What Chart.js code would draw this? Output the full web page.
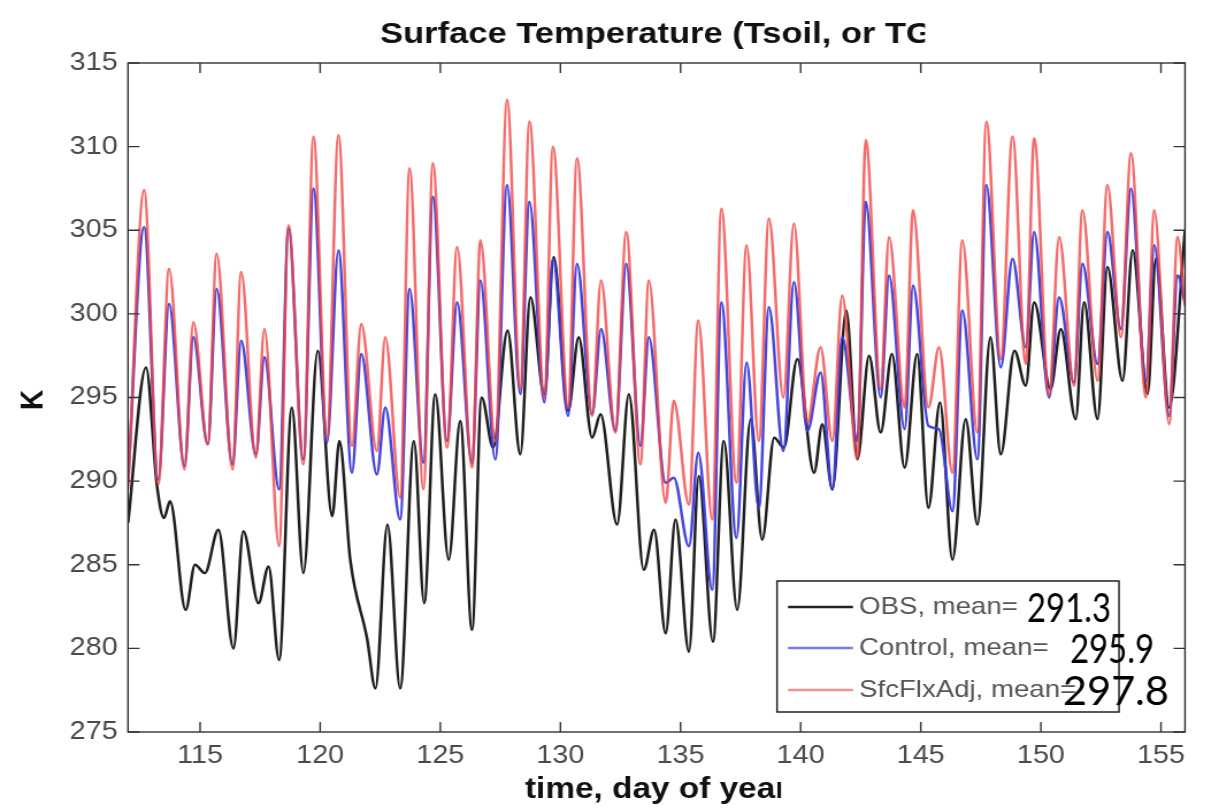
<!DOCTYPE html>
<html>
<head>
<meta charset="utf-8">
<title>Surface Temperature</title>
<script src="https://cdn.jsdelivr.net/npm/chart.js@4.4.0/dist/chart.umd.min.js"></script>
<style>
  html, body { margin: 0; padding: 0; background: #fff; overflow: hidden; }
  /* the source figure is stretched sideways, so the whole canvas is too */
  #wrap { width: 1055px; height: 812px; transform: scaleX(1.15); transform-origin: 0 0; }
</style>
</head>
<body>
<div id="wrap"><canvas id="tempChart" width="1055" height="812"></canvas></div>
<script>
// day of year of each daily max / min
const modelDays = [112.0, 112.67, 113.26, 113.71, 114.35, 114.72, 115.32, 115.69, 116.35, 116.71,
  117.32, 117.68, 118.29, 118.68, 119.3, 119.72, 120.28, 120.76, 121.32, 121.71,
  122.36, 122.71, 123.33, 123.72, 124.3, 124.69, 125.28, 125.7, 126.32, 126.67,
  127.29, 127.78, 128.33, 128.71, 129.33, 129.69, 130.32, 130.69, 131.32, 131.69,
  132.29, 132.74, 133.33, 133.68, 134.38, 134.72, 135.35, 135.74, 136.32, 136.7,
  137.33, 137.75, 138.26, 138.68, 139.28, 139.72, 140.28, 140.83, 141.32, 141.73,
  142.36, 142.71, 143.33, 143.68, 144.33, 144.68, 145.32, 145.76, 146.32, 146.73,
  147.36, 147.73, 148.33, 148.82, 149.37, 149.72, 150.34, 150.76, 151.38, 151.73,
  152.36, 152.77, 153.33, 153.75, 154.37, 154.72, 155.34, 155.69, 156.0];

// SfcFlxAdj run (red)
const sfcTemps = [289.5, 307.4, 289.8, 302.7, 290.7, 299.5, 292.2, 303.6, 290.7, 302.5,
  291.4, 299.1, 286.1, 305.3, 291.0, 310.6, 292.6, 310.7, 292.1, 299.4,
  291.8, 298.6, 289.0, 308.7, 289.5, 309.0, 292.0, 304.0, 290.8, 304.4,
  292.4, 312.8, 295.5, 311.5, 295.0, 310.0, 294.4, 309.3, 293.9, 302.0,
  292.9, 304.9, 291.0, 302.0, 288.7, 294.8, 288.6, 299.6, 287.7, 306.3,
  289.9, 304.1, 292.4, 305.7, 295.0, 305.4, 293.5, 298.0, 292.4, 301.1,
  291.3, 310.4, 295.5, 304.6, 294.4, 306.2, 294.4, 298.0, 290.5, 304.4,
  292.9, 311.5, 297.3, 310.6, 297.0, 310.5, 295.1, 304.6, 295.7, 306.2,
  296.0, 307.7, 298.6, 309.6, 295.0, 306.2, 293.4, 304.6, 300.5];

// Control run (blue)
const controlTemps = [290.0, 305.2, 290.1, 300.6, 290.9, 298.6, 292.2, 301.5, 291.0, 298.4,
  291.6, 297.4, 289.5, 305.1, 291.3, 307.5, 292.3, 303.8, 290.5, 297.6,
  290.4, 294.4, 287.7, 301.5, 291.1, 307.0, 292.4, 300.7, 291.1, 302.0,
  291.3, 307.7, 295.2, 306.7, 294.7, 303.3, 293.9, 303.0, 294.0, 299.1,
  293.0, 303.0, 292.1, 298.6, 289.9, 290.2, 286.1, 291.7, 283.5, 300.7,
  286.6, 297.1, 288.4, 300.4, 291.8, 301.9, 293.0, 296.5, 289.5, 298.6,
  292.4, 306.7, 295.0, 302.3, 293.1, 301.7, 293.3, 293.1, 288.2, 300.2,
  291.3, 307.7, 296.8, 303.3, 298.0, 304.9, 295.0, 301.0, 295.9, 303.0,
  297.0, 304.9, 299.1, 307.5, 296.0, 304.1, 293.9, 302.3, 300.7];

// observations (black)
const obsDays = [112.0, 112.75, 113.2, 113.5, 113.75, 114.4, 114.79, 115.2, 115.76, 116.39,
  116.8, 117.43, 117.85, 118.29, 118.82, 119.3, 119.9, 120.5, 120.8, 121.25,
  121.95, 122.3, 122.8, 123.33, 123.9, 124.33, 124.79, 125.35, 125.83, 126.32,
  126.72, 127.2, 127.8, 128.33, 128.75, 129.33, 129.72, 130.32, 130.76, 131.32,
  131.67, 132.36, 132.85, 133.47, 133.9, 134.38, 134.79, 135.35, 135.76, 136.35,
  136.8, 137.36, 137.92, 138.4, 138.9, 139.3, 139.86, 140.56, 140.9, 141.32,
  141.9, 142.36, 142.85, 143.33, 143.8, 144.33, 144.85, 145.32, 145.8, 146.32,
  146.87, 147.36, 147.9, 148.33, 148.9, 149.37, 149.72, 150.4, 150.83, 151.45,
  151.8, 152.36, 152.77, 153.4, 153.82, 154.44, 154.79, 155.34, 156.0];
const obsTemps = [287.5, 296.8, 289.8, 287.8, 288.8, 282.3, 285.0, 284.5, 287.1, 280.0,
  287.0, 282.7, 284.9, 279.3, 294.4, 284.5, 297.8, 287.9, 292.4, 285.3,
  280.6, 277.6, 287.4, 277.6, 292.4, 282.7, 295.2, 285.3, 293.6, 281.1,
  295.0, 292.0, 299.0, 291.6, 301.0, 295.2, 303.4, 294.2, 298.6, 292.6,
  294.0, 287.4, 295.2, 284.7, 287.1, 280.9, 287.7, 279.8, 290.3, 280.4,
  292.4, 282.3, 293.7, 286.5, 292.6, 292.0, 297.3, 290.5, 293.4, 289.5,
  300.2, 291.3, 297.5, 292.9, 297.6, 290.8, 297.6, 288.4, 294.7, 285.3,
  293.7, 287.4, 298.6, 291.6, 297.8, 295.7, 300.7, 295.5, 299.1, 293.7,
  300.7, 293.7, 302.8, 296.0, 303.8, 295.2, 303.3, 294.4, 305.0];

const xTickValues = [115, 120, 125, 130, 135, 140, 145, 150, 155];
const yTickValues = [275, 280, 285, 290, 295, 300, 305, 310, 315];

const seriesNames = ["OBS", "Control", "SfcFlxAdj"];
const seriesMeans = [291.3, 295.9, 297.8];
const seriesColors = ["#1e1e1e", "rgba(60, 60, 220, 0.95)", "rgba(240, 70, 70, 0.8)"];

const S = 1.15;  // horizontal stretch of the wrapper
const FONT = "'Liberation Sans', Arial, Helvetica, sans-serif";

function toPoints(days, temps) {
  return days.map((d, i) => ({ x: d, y: temps[i] }));
}

// title, axis labels, inward ticks, box and legend, MATLAB style
const figureDecor = {
  id: "figureDecor",
  afterDatasetsDraw(chart) {
    const ctx = chart.ctx;
    const area = chart.chartArea;
    const xs = chart.scales.x;
    const ys = chart.scales.y;

    ctx.save();
    ctx.strokeStyle = "#333";
    ctx.lineWidth = 1.4;
    ctx.beginPath();
    xTickValues.forEach((v) => {
      const px = xs.getPixelForValue(v);
      ctx.moveTo(px, area.bottom);
      ctx.lineTo(px, area.bottom - 10);
      ctx.moveTo(px, area.top);
      ctx.lineTo(px, area.top + 10);
    });
    yTickValues.forEach((v) => {
      const py = ys.getPixelForValue(v);
      ctx.moveTo(area.left, py);
      ctx.lineTo(area.left + 10, py);
      ctx.moveTo(area.right, py);
      ctx.lineTo(area.right - 10, py);
    });
    ctx.stroke();
    ctx.strokeRect(area.left, area.top, area.right - area.left, area.bottom - area.top);

    // title and x label are clipped on the right, as in the source
    const midX = (area.left + area.right) / 2;
    ctx.fillStyle = "#111";
    ctx.textAlign = "center";
    ctx.textBaseline = "alphabetic";

    ctx.save();
    ctx.beginPath();
    ctx.rect(0, 0, 925 / S, 60);
    ctx.clip();
    ctx.font = "bold 30px " + FONT;
    ctx.fillText("Surface Temperature (Tsoil, or TG", midX, 43);
    ctx.restore();

    ctx.save();
    ctx.beginPath();
    ctx.rect(0, 740, 781 / S, 72);
    ctx.clip();
    ctx.font = "bold 29px " + FONT;
    ctx.fillText("time, day of year", midX, 798);
    ctx.restore();

    ctx.save();
    ctx.translate(29, 400);
    ctx.rotate(-Math.PI / 2);
    ctx.textBaseline = "middle";
    ctx.font = "bold 28px " + FONT;
    ctx.fillText("K", 0, 0);
    ctx.restore();

    // legend box
    const boxL = 777 / S, boxR = 1119 / S, boxT = 581, boxB = 712;
    ctx.fillStyle = "#fff";
    ctx.fillRect(boxL, boxT, boxR - boxL, boxB - boxT);
    ctx.strokeStyle = "#222";
    ctx.lineWidth = 1.5;
    ctx.strokeRect(boxL, boxT, boxR - boxL, boxB - boxT);

    const rowY = [607, 648, 690];
    const numX = [1027, 1070, 1063];
    const numW = [84, 84, 106];
    seriesNames.forEach((name, i) => {
      ctx.strokeStyle = i === 0 ? "#222" : (i === 1 ? "#7b7be8" : "#f29090");
      ctx.lineWidth = 2.4;
      ctx.beginPath();
      ctx.moveTo(788 / S, rowY[i]);
      ctx.lineTo(853 / S, rowY[i]);
      ctx.stroke();

      ctx.fillStyle = "#555";
      ctx.textAlign = "left";
      ctx.textBaseline = "middle";
      ctx.font = "24px " + FONT;
      ctx.fillText(name + ", mean=", 747, rowY[i]);

      // the means were pasted on later in an unstretched font
      const txt = seriesMeans[i].toFixed(1);
      ctx.font = "41px Lato, 'Open Sans', sans-serif";
      ctx.textBaseline = "alphabetic";
      ctx.fillStyle = "#000";
      const sx = (numW[i] / S) / ctx.measureText(txt).width;
      ctx.save();
      ctx.translate(numX[i] / S, rowY[i] + 15);
      ctx.scale(sx, 1);
      ctx.fillText(txt, 0, 0);
      ctx.restore();
    });
    ctx.restore();
  }
};

const lineStyle = {
  borderWidth: 2.5,
  pointRadius: 0,
  fill: false,
  cubicInterpolationMode: "monotone"
};

new Chart(document.getElementById("tempChart").getContext("2d"), {
  type: "line",
  data: {
    datasets: [
      Object.assign({ label: seriesNames[0], data: toPoints(obsDays, obsTemps), borderColor: seriesColors[0], order: 3 }, lineStyle),
      Object.assign({ label: seriesNames[1], data: toPoints(modelDays, controlTemps), borderColor: seriesColors[1], order: 2 }, lineStyle),
      Object.assign({ label: seriesNames[2], data: toPoints(modelDays, sfcTemps), borderColor: seriesColors[2], order: 1 }, lineStyle)
    ]
  },
  options: {
    responsive: false,
    animation: false,
    events: [],
    layout: { padding: { left: 0, right: 1055 - 1185 / S, top: 63, bottom: 0 } },
    plugins: {
      legend: { display: false },
      title: { display: false },
      tooltip: { enabled: false }
    },
    scales: {
      x: {
        type: "linear",
        min: 112,
        max: 156,
        afterBuildTicks: (scale) => { scale.ticks = xTickValues.map((v) => ({ value: v })); },
        afterFit: (scale) => { scale.height = 80; },
        grid: { display: false, drawTicks: false },
        border: { display: false },
        ticks: {
          autoSkip: false,
          maxRotation: 0,
          padding: 9,
          color: "#4a4a4a",
          font: { family: FONT, size: 25 }
        }
      },
      y: {
        type: "linear",
        min: 275,
        max: 315,
        afterBuildTicks: (scale) => { scale.ticks = yTickValues.map((v) => ({ value: v })); },
        afterFit: (scale) => { scale.width = 128 / S; },
        grid: { display: false, drawTicks: false },
        border: { display: false },
        ticks: {
          padding: 9,
          color: "#4a4a4a",
          font: { family: FONT, size: 25 }
        }
      }
    }
  },
  plugins: [figureDecor]
});
</script>
</body>
</html>
